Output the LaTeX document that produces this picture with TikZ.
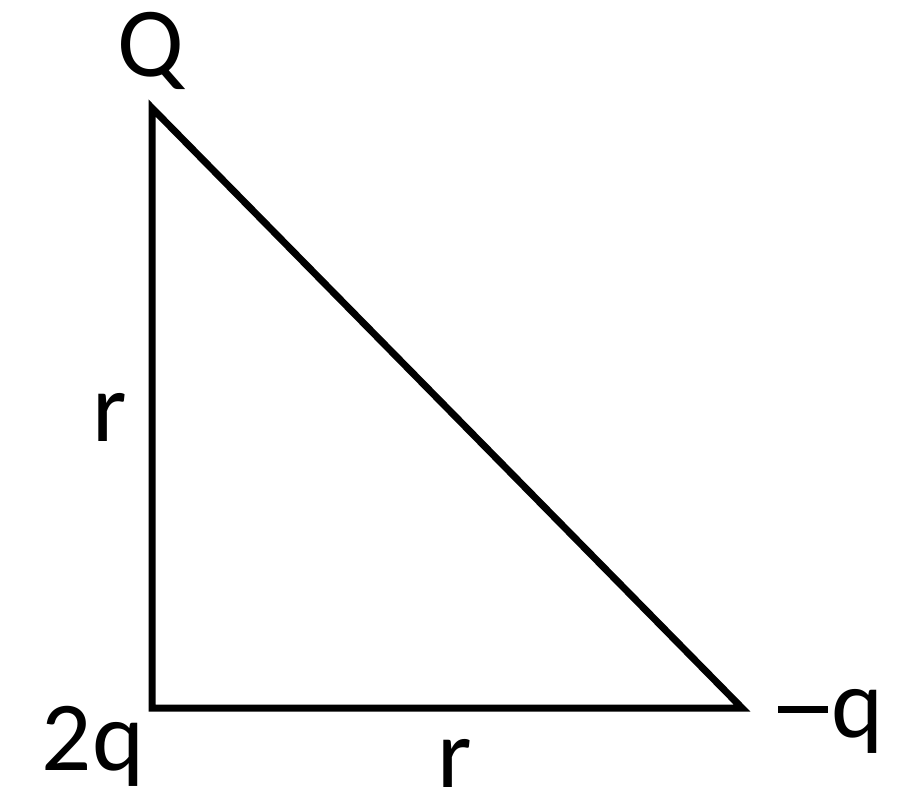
\documentclass[tikz,border=0pt]{standalone}
\usepackage{fontspec}
\setmainfont{Carlito}
\begin{document}
\begin{tikzpicture}[x=1pt,y=1pt,
  lbl/.style={anchor=base,inner sep=0pt,font=\fontsize{99}{110}\selectfont},
  edge/.style={line width=7pt,miter limit=20,line join=miter}]
\useasboundingbox (0,0) rectangle (900,804);
\coordinate (T) at (152,696);
\coordinate (BL) at (152,96);
\coordinate (BR) at (742,96);
\draw[edge] (T) -- (BL) -- (BR) -- cycle;
\node[lbl] (lq) at (151,727) {Q};
\node[lbl] (lr1) at (109.5,362) {r};
\node[lbl] (lr2) at (455,17) {r};
\node[lbl] (l2q) at (93,34) {2q};
\node[lbl,anchor=base west] (lmq) at (778,67) {\rule[24.5pt]{50pt}{7pt}\hspace{3pt}q};
\end{tikzpicture}
\end{document}
